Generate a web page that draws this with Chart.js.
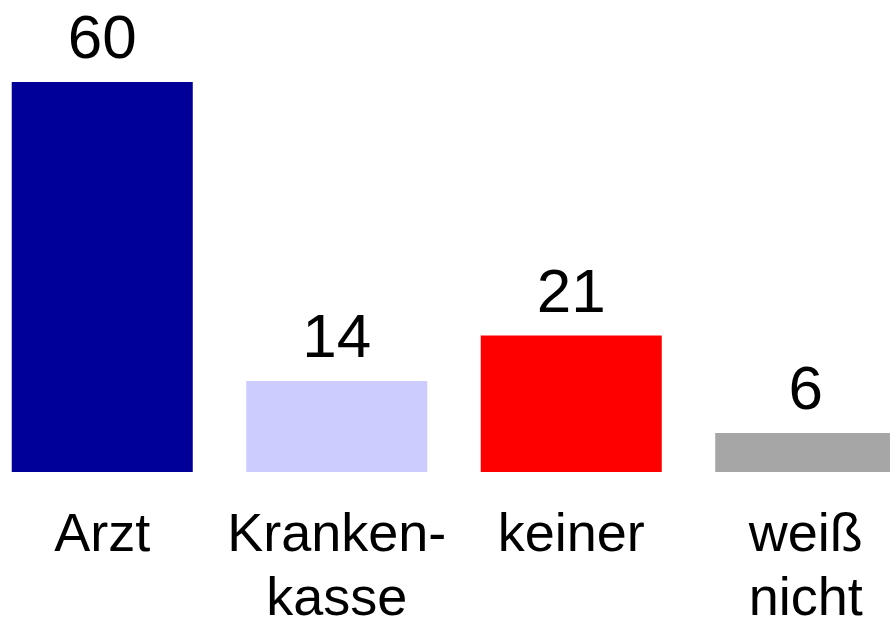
<!DOCTYPE html>
<html>
<head>
<meta charset="utf-8">
<script src="https://cdn.jsdelivr.net/npm/chart.js@4"></script>
<style>
  html, body { margin: 0; padding: 0; background: #ffffff; overflow: hidden; width: 890px; height: 618px; }
  #wrap { position: absolute; left: -15px; top: 0; width: 938px; height: 618px; }
</style>
</head>
<body>
<div id="wrap"><canvas id="c" width="938" height="618"></canvas></div>
<script>
const categories = [["Arzt"], ["Kranken-", "kasse"], ["keiner"], ["weiß", "nicht"]];
const values = [60, 14, 21, 6];
const barColors = ["#000099", "#ccccff", "#ff0000", "#a6a6a6"];
const yMin = 0;
const yMax = 72;

const valueLabels = {
  id: 'valueLabels',
  afterDatasetsDraw(chart) {
    const ctx = chart.ctx;
    const meta = chart.getDatasetMeta(0);
    ctx.save();
    ctx.font = '62px "Liberation Sans", Arial, sans-serif';
    ctx.fillStyle = '#000000';
    ctx.textAlign = 'center';
    ctx.textBaseline = 'alphabetic';
    meta.data.forEach((bar, i) => {
      ctx.fillText(String(values[i]), bar.x, bar.y - 24);
    });
    ctx.restore();
  }
};

new Chart(document.getElementById('c'), {
  type: 'bar',
  data: {
    labels: categories,
    datasets: [{
      data: values,
      backgroundColor: barColors,
      borderWidth: 0,
      categoryPercentage: 1.0,
      barPercentage: 0.772
    }]
  },
  options: {
    responsive: false,
    animation: false,
    layout: { padding: { top: 4, left: 0, right: 0, bottom: 0 } },
    plugins: { legend: { display: false }, tooltip: { enabled: false } },
    scales: {
      x: {
        grid: { display: false, drawTicks: false },
        border: { display: false },
        ticks: {
          color: '#000000',
          font: { family: '"Liberation Sans", Arial, sans-serif', size: 54, lineHeight: 1.17 },
          padding: 33,
          maxRotation: 0,
          minRotation: 0,
          autoSkip: false
        },
        afterFit(scale) { scale.height = 146; }
      },
      y: {
        display: false,
        min: yMin,
        max: yMax
      }
    }
  },
  plugins: [valueLabels]
});
</script>
</body>
</html>
